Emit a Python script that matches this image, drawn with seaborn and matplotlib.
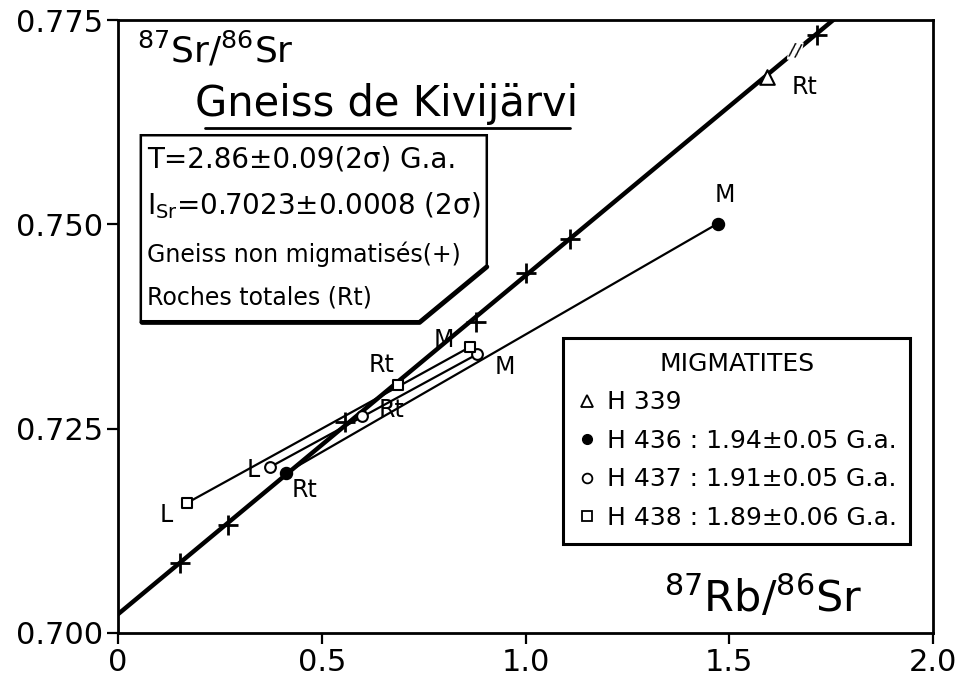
import matplotlib
matplotlib.use("Agg")
import matplotlib.pyplot as plt
import seaborn as sns
from matplotlib.patches import Polygon
from matplotlib.lines import Line2D

# ---------------- data ----------------
# Gneiss non migmatisés (+)
gneiss_x = [0.152, 0.270, 0.557, 0.879, 1.001, 1.109, 1.715]
gneiss_y = [0.7086, 0.7132, 0.7258, 0.7381, 0.7440, 0.7482, 0.7732]
# isochron end points (I_Sr = 0.7023)
iso_x = [0.0, 1.76]
iso_y = [0.7023, 0.7752]
# migmatites
h339_x = [1.593]
h339_y = [0.7680]
h436_x = [0.412, 1.472]
h436_y = [0.7196, 0.7501]
h437_x = [0.373, 0.599, 0.881]
h437_y = [0.7203, 0.7265, 0.7341]
h438_x = [0.169, 0.687, 0.864]
h438_y = [0.7159, 0.7304, 0.7350]

point_labels = ["Rt", "M", "M", "M", "Rt", "Rt", "Rt", "L", "L"]
label_x = [1.686, 1.490, 0.950, 0.800, 0.648, 0.672, 0.459, 0.331, 0.118]
label_y = [0.7668, 0.7536, 0.7325, 0.7358, 0.7328, 0.7273, 0.7175, 0.7199, 0.7144]

legend_labels = ["H 339", "H 436 : 1.94±0.05 G.a.",
                 "H 437 : 1.91±0.05 G.a.", "H 438 : 1.89±0.06 G.a."]

x_ticks = [0, 0.5, 1.0, 1.5, 2.0]
x_ticklabels = ["0", "0.5", "1.0", "1.5", "2.0"]
y_ticks = [0.700, 0.725, 0.750, 0.775]
y_ticklabels = ["0.700", "0.725", "0.750", "0.775"]

# ---------------- style ----------------
sns.set_theme(style="ticks")
plt.rcParams["font.family"] = ["DejaVu Sans"]
plt.rcParams["mathtext.fontset"] = "dejavusans"
plt.rcParams["text.color"] = "black"
plt.rcParams["axes.labelcolor"] = "black"
plt.rcParams["xtick.color"] = "black"
plt.rcParams["ytick.color"] = "black"
plt.rcParams["legend.labelcolor"] = "black"

fig = plt.figure(figsize=(9.59, 6.83), dpi=100)
ax = fig.add_axes([118 / 959, 50 / 683, 815 / 959, 613 / 683])

# isochron
sns.lineplot(x=iso_x, y=iso_y, ax=ax, color="black", linewidth=3.2,
             estimator=None, sort=False, zorder=2)
# migmatite lines
for xs, ys in [(h436_x, h436_y), (h437_x, h437_y), (h438_x, h438_y)]:
    sns.lineplot(x=[xs[0], xs[-1]], y=[ys[0], ys[-1]], ax=ax, color="black",
                 linewidth=1.6, estimator=None, sort=False, zorder=2)

# points
sns.scatterplot(x=gneiss_x, y=gneiss_y, ax=ax, marker="+", s=190,
                color="black", linewidth=2.0, zorder=5, legend=False)
sns.scatterplot(x=h339_x, y=h339_y, ax=ax, marker="^", s=110,
                facecolor="white", edgecolor="black", linewidth=1.5,
                zorder=5, legend=False)
sns.scatterplot(x=h436_x, y=h436_y, ax=ax, marker="o", s=75,
                color="black", edgecolor="black", linewidth=1.0,
                zorder=5, legend=False)
sns.scatterplot(x=h437_x, y=h437_y, ax=ax, marker="o", s=60,
                facecolor="white", edgecolor="black", linewidth=1.5,
                zorder=5, legend=False)
sns.scatterplot(x=h438_x, y=h438_y, ax=ax, marker="s", s=55,
                facecolor="white", edgecolor="black", linewidth=1.5,
                zorder=5, legend=False)

# point labels
for t, lx, ly in zip(point_labels, label_x, label_y):
    ax.text(lx, ly, t, fontsize=17, ha="center", va="center", zorder=6)

# axis break mark on the isochron
ax.text(1.662, 0.7712, "//", fontsize=13, ha="center", va="center",
        rotation=-10, zorder=6,
        bbox=dict(facecolor="white", edgecolor="none", pad=0.5))

# axes / ticks
ax.set_xlim(0, 2.0)
ax.set_ylim(0.700, 0.775)
ax.set_xticks(x_ticks)
ax.set_xticklabels(x_ticklabels)
ax.set_yticks(y_ticks)
ax.set_yticklabels(y_ticklabels)
ax.tick_params(direction="out", length=8, width=1.6, labelsize=22,
               pad=3, colors="black")
for sp in ax.spines.values():
    sp.set_visible(True)
    sp.set_linewidth(2.0)
    sp.set_color("black")

ax.set_xlabel(r"$^{87}$Rb/$^{86}$Sr", fontsize=31, va="center", ha="center")
ax.xaxis.set_label_coords(0.792, 0.058)
ax.set_ylabel(r"$^{87}$Sr/$^{86}$Sr", fontsize=26, rotation=0,
              va="center", ha="center")
ax.yaxis.set_label_coords(0.119, 0.951)

# title with underline
ax.text(0.658, 0.7647, "Gneiss de Kivijärvi", fontsize=30, ha="center",
        va="center", zorder=6)
ax.add_line(Line2D([0.213, 1.109], [0.7618, 0.7618], color="black",
                   linewidth=2.0, transform=ax.transData))

# info box with cut corner
box_pts = [(0.056, 0.7609), (0.905, 0.7609), (0.905, 0.7448),
           (0.740, 0.7381), (0.056, 0.7381)]
ax.add_patch(Polygon(box_pts, closed=True, facecolor="white",
                     edgecolor="black", linewidth=1.8, zorder=3))
ax.add_line(Line2D([0.059, 0.740, 0.905], [0.7380, 0.7380, 0.7448],
                   color="black", linewidth=3.5, zorder=3.5))
ax.text(0.071, 0.7579, "T=2.86±0.09(2σ) G.a.", fontsize=20,
        ha="left", va="center", zorder=6)
ax.text(0.071, 0.7523, r"I$_{\mathrm{Sr}}$=0.7023±0.0008 (2σ)", fontsize=20,
        ha="left", va="center", zorder=6)
ax.text(0.071, 0.7463, "Gneiss non migmatisés(+)", fontsize=17,
        ha="left", va="center", zorder=6)
ax.text(0.071, 0.7410, "Roches totales (Rt)", fontsize=17,
        ha="left", va="center", zorder=6)

# legend
handles = [
    Line2D([], [], linestyle="none", marker="^", markersize=8,
           markerfacecolor="white", markeredgecolor="black", markeredgewidth=1.3),
    Line2D([], [], linestyle="none", marker="o", markersize=7,
           markerfacecolor="black", markeredgecolor="black"),
    Line2D([], [], linestyle="none", marker="o", markersize=7,
           markerfacecolor="white", markeredgecolor="black", markeredgewidth=1.3),
    Line2D([], [], linestyle="none", marker="s", markersize=7,
           markerfacecolor="white", markeredgecolor="black", markeredgewidth=1.3),
]
leg = ax.legend(handles, legend_labels, title="MIGMATITES", loc="upper left",
                bbox_to_anchor=(0.546, 0.481), borderaxespad=0,
                fontsize=18, title_fontsize=18, frameon=True, fancybox=False,
                handlelength=0.8, handletextpad=0.4, labelspacing=0.58,
                borderpad=0.55)
leg.get_frame().set_edgecolor("black")
leg.get_frame().set_linewidth(2.2)
leg.get_frame().set_facecolor("white")
leg.get_frame().set_alpha(1)
for t in leg.get_texts():
    t.set_color("black")
leg.get_title().set_color("black")

fig.savefig("out.png", dpi=100, facecolor="white")
